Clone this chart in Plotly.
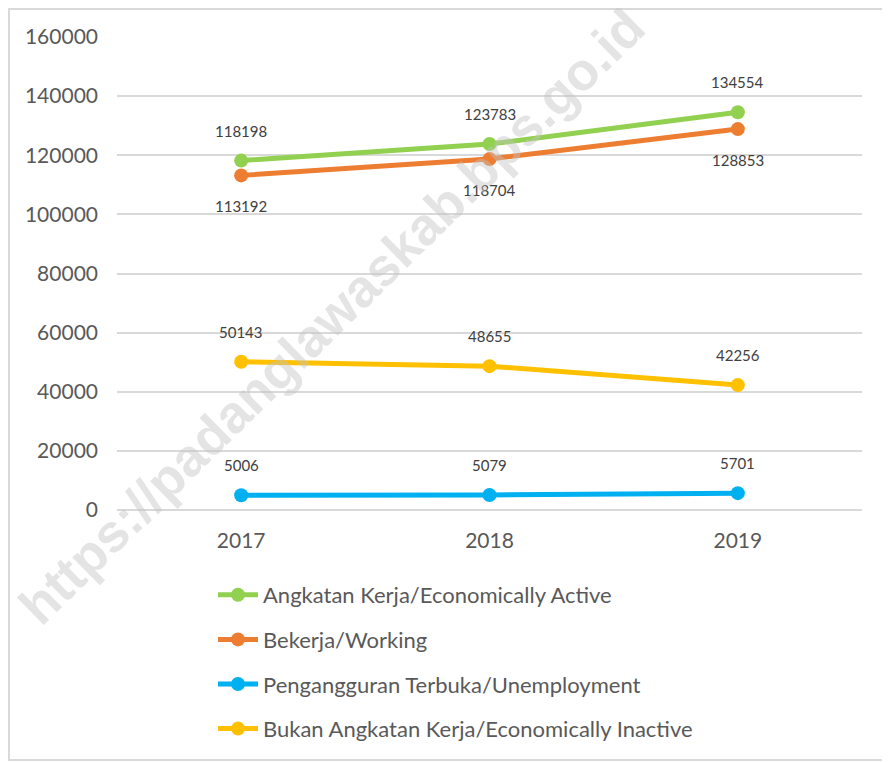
import plotly.graph_objects as go

years = ["2017", "2018", "2019"]
active = [118198, 123783, 134554]
working = [113192, 118704, 128853]
unemployed = [5006, 5079, 5701]
inactive = [50143, 48655, 42256]

names = [
    "Angkatan Kerja/Economically Active",
    "Bekerja/Working",
    "Pengangguran Terbuka/Unemployment",
    "Bukan Angkatan Kerja/Economically Inactive",
]
colors = ["#92D050", "#ED7D31", "#00B0F0", "#FFC000"]
series = [active, working, unemployed, inactive]
label_side = ["above", "below", "above", "above"]

FONT = "Lato, Carlito, Calibri, 'Open Sans', sans-serif"

# page has an 8px body margin, so figure is shifted by 8px
W, H = 882, 754
L, T = 109, 29
PW, PH = 745, 473
R, B = W - L - PW, H - T - PH

# helpers: reference-page pixel -> paper coordinates
REF_L, REF_BOT = 117, 510


def px(xp):
    return (xp - REF_L) / PW


def py(yp):
    return (REF_BOT - yp) / PH


fig = go.Figure()
for i, (nm, col, vals) in enumerate(zip(names, colors, series)):
    fig.add_trace(go.Scatter(
        x=years, y=vals, name=nm, mode="lines+markers",
        line=dict(color=col, width=5),
        marker=dict(color=col, size=14),
        legendgroup=f"g{i}",
        hoverinfo="skip",
    ))

annotations = []
for vals, side in zip(series, label_side):
    for xi, v in enumerate(vals):
        annotations.append(dict(
            x=xi, y=v, xref="x", yref="y", text=str(v), showarrow=False,
            xanchor="center", yanchor="middle",
            yshift=30 if side == "above" else -31,
            font=dict(family=FONT, size=15, color="#404040"),
        ))

# watermark
annotations.append(dict(
    x=px(331), y=py(316), xref="paper", yref="paper",
    text="<b>https://padanglawaskab.bps.go.id</b>",
    showarrow=False, textangle=-44.5, xanchor="center", yanchor="middle",
    font=dict(family="'Liberation Sans', Arial, sans-serif", size=53,
              color="rgba(195,195,195,0.45)"),
))

fig.update_layout(
    width=W, height=H,
    margin=dict(l=L, r=R, t=T, b=B, autoexpand=False),
    paper_bgcolor="white", plot_bgcolor="white",
    font=dict(family=FONT, color="#595959"),
    showlegend=True,
    legend=dict(
        x=px(213), y=py(574), xanchor="left", yanchor="top",
        orientation="v", tracegroupgap=13,
        font=dict(family=FONT, size=22, color="#595959"),
        itemwidth=40,
        bgcolor="rgba(0,0,0,0)",
    ),
    xaxis=dict(
        type="category", range=[-0.5, 2.5], automargin=False,
        showgrid=False, zeroline=False, showline=False,
        ticks="", tickfont=dict(family=FONT, size=21, color="#595959"),
        ticklabelstandoff=16,
    ),
    yaxis=dict(
        range=[0, 160000], dtick=20000, tickformat="d", automargin=False,
        showgrid=True, gridcolor="#D9D9D9", gridwidth=2,
        zeroline=True, zerolinecolor="#D9D9D9", zerolinewidth=2,
        showline=False, ticks="",
        tickfont=dict(family=FONT, size=21, color="#595959"),
        ticklabelstandoff=18,
    ),
    annotations=annotations,
    shapes=[dict(
        type="rect", xref="paper", yref="paper",
        x0=px(9), x1=px(887), y0=py(760), y1=py(9),
        line=dict(color="#D9D9D9", width=2), fillcolor="rgba(0,0,0,0)",
        layer="below",
    )],
)

fig.write_html("out.html")
